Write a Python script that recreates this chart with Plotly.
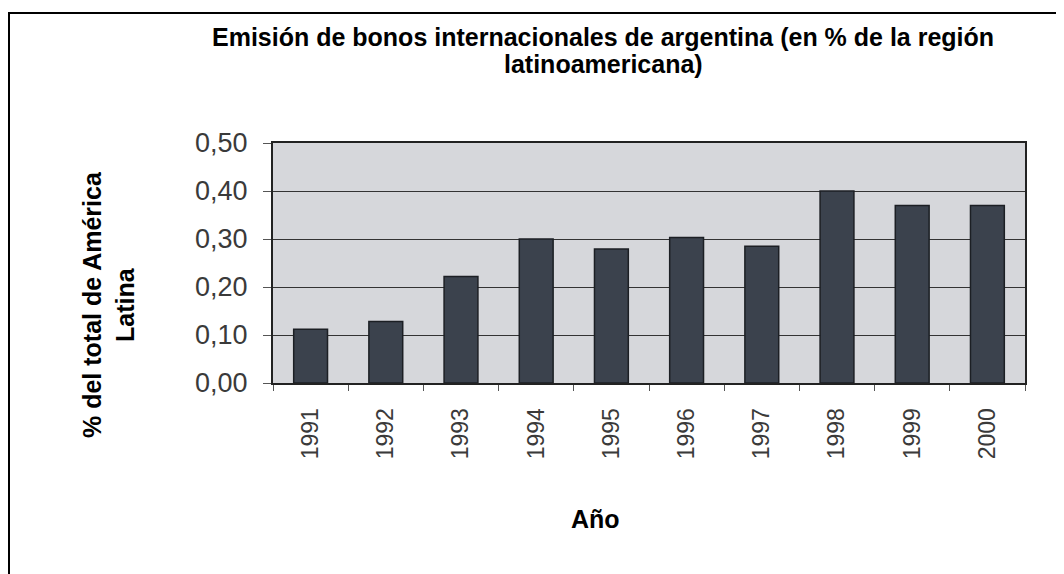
# bar chart: argentine international bond issuance as share of latin america

import plotly.graph_objects as go

YEARS = ["1991", "1992", "1993", "1994", "1995", "1996", "1997", "1998", "1999", "2000"]
SHARE = [0.112, 0.128, 0.222, 0.300, 0.279, 0.303, 0.285, 0.400, 0.370, 0.370]
Y_TICKS = [0.0, 0.1, 0.2, 0.3, 0.4, 0.5]

TITLE_1 = "Emisión de bonos internacionales de argentina (en % de la región"
TITLE_2 = "latinoamericana)"
Y_TITLE = "% del total de América<br>Latina"
X_TITLE = "Año"

FONT = "Arial, Liberation Sans, sans-serif"

# the page body adds an 8px margin, so the figure starts at (8, 8)
OFF = 8
W, H = 1064 - OFF, 574 - OFF
# plot area in page pixels
L, R, T, B = 273, 1025, 143, 383


def px_x(x):
    return (x - L) / (R - L)


def px_y(y):
    return (B - y) / (B - T)


fig = go.Figure()
fig.add_bar(
    x=YEARS,
    y=SHARE,
    marker=dict(color="#3b424d", line=dict(color="#1c1f24", width=1.5)),
    hoverinfo="x+y",
)

fig.update_layout(
    width=W,
    height=H,
    margin=dict(l=L - OFF, r=1064 - R, t=T - OFF, b=574 - B, autoexpand=False),
    paper_bgcolor="white",
    plot_bgcolor="#d6d7db",
    separators=",.",
    bargap=0.55,
    showlegend=False,
    font=dict(family=FONT, color="black"),
)

fig.update_xaxes(
    type="category",
    tickangle=-90,
    tickson="boundaries",
    ticks="outside",
    ticklen=6,
    tickcolor="#555",
    tickfont=dict(size=23, color="#3a3a3a"),
    ticklabelstandoff=14,
    showline=True,
    linecolor="#222",
    linewidth=2,
    mirror=True,
    showgrid=False,
)

fig.update_yaxes(
    range=[0, 0.5],
    tickvals=Y_TICKS,
    tickformat=".2f",
    ticks="outside",
    ticklen=8,
    tickcolor="#555",
    tickfont=dict(size=27, color="#3a3a3a"),
    ticklabelstandoff=10,
    showline=True,
    linecolor="#222",
    linewidth=2,
    mirror=True,
    showgrid=True,
    gridcolor="#333333",
    gridwidth=1,
    zeroline=False,
)

# frame around the whole picture (cut off at right and bottom)
fig.add_shape(
    type="rect", xref="paper", yref="paper",
    x0=px_x(9), x1=px_x(1100), y0=px_y(640), y1=px_y(13),
    line=dict(color="black", width=2), fillcolor="rgba(0,0,0,0)", layer="above",
)

fig.add_annotation(
    text=f"<b>{TITLE_1}</b>", xref="paper", yref="paper",
    x=px_x(603), y=px_y(37), xanchor="center", yanchor="middle",
    showarrow=False, font=dict(size=25, family=FONT, color="black"),
)
fig.add_annotation(
    text=f"<b>{TITLE_2}</b>", xref="paper", yref="paper",
    x=px_x(603), y=px_y(64), xanchor="center", yanchor="middle",
    showarrow=False, font=dict(size=25, family=FONT, color="black"),
)
fig.add_annotation(
    text=f"<b>{Y_TITLE}</b>", xref="paper", yref="paper",
    x=px_x(108), y=px_y(305), xanchor="center", yanchor="middle",
    textangle=-90, showarrow=False,
    font=dict(size=25, family=FONT, color="black"),
)
fig.add_annotation(
    text=f"<b>{X_TITLE}</b>", xref="paper", yref="paper",
    x=px_x(595), y=px_y(519), xanchor="center", yanchor="middle",
    showarrow=False, font=dict(size=25, family=FONT, color="black"),
)

fig.write_html("out.html")
